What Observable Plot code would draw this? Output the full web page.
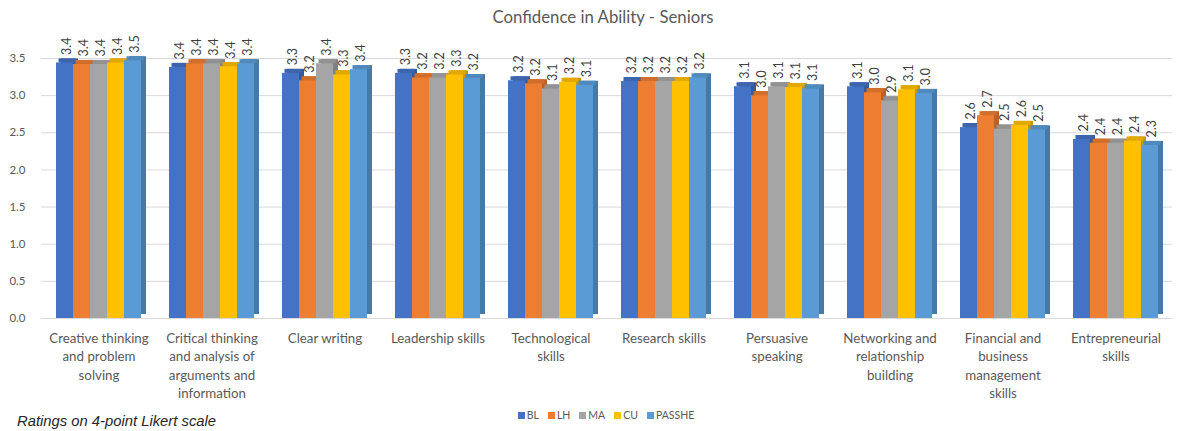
<!DOCTYPE html>
<html>
<head>
<meta charset="utf-8">
<script src="https://cdn.jsdelivr.net/npm/d3@7"></script>
<script src="https://cdn.jsdelivr.net/npm/@observablehq/plot@0.6"></script>
<style>
  html, body { margin: 0; padding: 0; background: #fff; }
  body { width: 1180px; height: 431px; position: relative; overflow: hidden; font-family: Lato, "Open Sans", sans-serif; }
  #title { position: absolute; top: 6px; left: 0; width: 1206px; text-align: center; font-size: 16.8px; color: #595959; }
  #grid, #chart { position: absolute; top: 30px; left: 0; }
  #legend { position: absolute; top: 409px; left: 0; width: 1212px; display: flex; justify-content: center; gap: 9px; font-size: 10.5px; color: #595959; font-family: Lato, "Open Sans", sans-serif; }
  #legend div { display: flex; align-items: center; }
  #legend span.sw { display: inline-block; width: 7px; height: 7px; margin-right: 2px; }
  #caption { position: absolute; top: 413px; left: 17px; font-size: 14.8px; font-style: italic; color: #262626; font-family: "Liberation Sans", Arial, sans-serif; }
</style>
</head>
<body>
<div id="title">Confidence in Ability - Seniors</div>
<div id="grid"></div>
<div id="chart"></div>
<div id="legend"></div>
<div id="caption">Ratings on 4-point Likert scale</div>
<script>
const categories = [
  "Creative thinking and problem solving",
  "Critical thinking and analysis of arguments and information",
  "Clear writing",
  "Leadership skills",
  "Technological skills",
  "Research skills",
  "Persuasive speaking",
  "Networking and relationship building",
  "Financial and business management skills",
  "Entrepreneurial skills"
];
const categoryLabels = [
  "Creative thinking\nand problem\nsolving",
  "Critical thinking\nand analysis of\narguments and\ninformation",
  "Clear writing",
  "Leadership skills",
  "Technological\nskills",
  "Research skills",
  "Persuasive\nspeaking",
  "Networking and\nrelationship\nbuilding",
  "Financial and\nbusiness\nmanagement\nskills",
  "Entrepreneurial\nskills"
];
const seriesNames = ["BL", "LH", "MA", "CU", "PASSHE"];
const seriesColors = ["#4472C4", "#ED7D31", "#A5A5A5", "#FFC000", "#5B9BD5"];
const BL     = [3.44, 3.38, 3.30, 3.30, 3.20, 3.19, 3.12, 3.12, 2.57, 2.41];
const LH     = [3.42, 3.43, 3.20, 3.24, 3.16, 3.19, 3.00, 3.04, 2.73, 2.36];
const MA     = [3.42, 3.43, 3.43, 3.24, 3.09, 3.19, 3.12, 2.93, 2.55, 2.36];
const CU     = [3.44, 3.39, 3.28, 3.28, 3.18, 3.19, 3.11, 3.08, 2.60, 2.39];
const PASSHE = [3.47, 3.43, 3.35, 3.23, 3.14, 3.24, 3.09, 3.03, 2.54, 2.33];
const yTicks = [0, 0.5, 1.0, 1.5, 2.0, 2.5, 3.0, 3.5];

const seriesValues = [BL, LH, MA, CU, PASSHE];
const data = [];
categories.forEach((c, i) => {
  seriesNames.forEach((s, j) => {
    data.push({category: c, series: s, value: seriesValues[j][i]});
  });
});
const labelMap = new Map(categories.map((c, i) => [c, categoryLabels[i]]));
const darkColors = seriesColors.map(c => d3.color(c).darker(0.7).formatHex());
const topColors = seriesColors.map(c => d3.color(c).darker(0.35).formatHex());

const common = {
  width: 1180,
  height: 375,
  marginTop: 28,
  marginBottom: 87,
  marginLeft: 41,
  marginRight: 8,
  style: {fontFamily: "Lato, 'Open Sans', sans-serif", fontSize: "12.5px", color: "#595959", background: "transparent"}
};

// Background layer: continuous gridlines and the y axis
const grid = Plot.plot({
  ...common,
  y: {domain: [0, 3.5], ticks: yTicks, label: null, axis: null},
  marks: [
    Plot.ruleY(yTicks, {stroke: "#d9d9d9"}),
    Plot.axisY(yTicks, {tickSize: 0, tickPadding: 16, tickFormat: d3.format(".1f"), fontSize: 11.5, fill: "#595959", label: null})
  ]
});
document.getElementById("grid").appendChild(grid);

const chart = Plot.plot({
  ...common,
  fx: {domain: categories, paddingInner: 0.25, paddingOuter: 0.1, label: null, axis: null},
  x: {domain: seriesNames, padding: 0, axis: null},
  y: {domain: [0, 3.5], ticks: yTicks, label: null, axis: null},
  color: {domain: seriesNames, range: seriesColors},
  marks: [
    Plot.axisFx({anchor: "bottom", tickSize: 0, tickPadding: 12, tickFormat: d => labelMap.get(d), lineHeight: 1.36, fontSize: 13.3, fill: "#595959", label: null, textOverflow: null, lineAnchor: "top"}),
    Plot.barY(data, {fx: "category", x: "series", y: "value", fill: d => darkColors[seriesNames.indexOf(d.series)], dx: 5, dy: -4}),
    Plot.barY(data, {fx: "category", x: "series", y1: "value", y2: "value", fill: d => topColors[seriesNames.indexOf(d.series)], dx: 2.5, dy: -2, insetTop: -2, insetBottom: -2}),
    Plot.barY(data, {fx: "category", x: "series", y: "value", fill: "series"}),
    Plot.text(data, {fx: "category", x: "series", y: "value", text: d => d3.format(".1f")(d.value), rotate: -90, textAnchor: "start", dx: 2, dy: -8, fontSize: 12.5, fill: "#404040"})
  ]
});
document.getElementById("chart").appendChild(chart);

const legend = document.getElementById("legend");
seriesNames.forEach((s, i) => {
  const item = document.createElement("div");
  item.innerHTML = `<span class="sw" style="background:${seriesColors[i]}"></span>${s}`;
  legend.appendChild(item);
});
</script>
</body>
</html>
